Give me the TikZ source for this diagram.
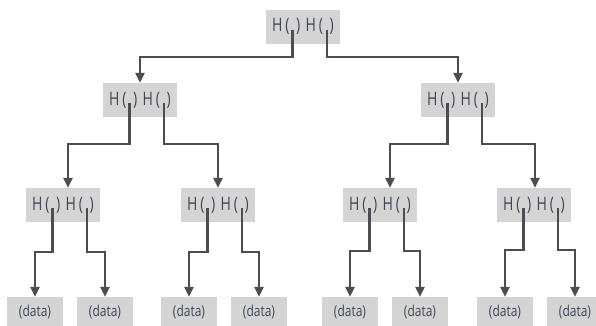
\documentclass[tikz,border=0pt]{standalone}
\usepackage{fontspec}
\setmainfont{Open Sans}
\usetikzlibrary{arrows.meta,calc}
\definecolor{boxgray}{HTML}{D4D4D4}
\definecolor{linec}{HTML}{4B4D52}
\definecolor{txt}{HTML}{3E4656}
\newcommand{\hpair}{\scalebox{0.76}[1]{H\hspace{3.6pt}(\hspace{8.8pt})\hspace{7.2pt}H\hspace{3.6pt}(\hspace{8.8pt})}}
\newcommand{\dtext}{\scalebox{0.8}[1]{(data)}}
\tikzset{
  hbox/.style={fill=boxgray, minimum width=74pt, minimum height=34pt, inner sep=0pt,
    text=txt, font=\fontsize{18.5}{18.5}\selectfont},
  dbox/.style={fill=boxgray, minimum width=56pt, minimum height=30pt, inner sep=0pt,
    text=txt, font=\fontsize{15}{15}\selectfont},
  link/.style={draw=linec, line width=2.6pt, -{Triangle[width=9pt,length=10pt]}},
}
\begin{document}
\begin{tikzpicture}[x=1pt,y=-1pt]
\clip (0,0) rectangle (596,325);
\fill[white] (0,0) rectangle (596,325);
% nodes
\node[hbox] (root) at (303,26.5) {\hpair};
\node[hbox] (l2l) at (140,100) {\hpair};
\node[hbox] (l2r) at (458,100) {\hpair};
\node[hbox] (ll) at (63,205) {\hpair};
\node[hbox] (lr) at (218,205) {\hpair};
\node[hbox] (rl) at (380,205) {\hpair};
\node[hbox] (rr) at (534,205) {\hpair};
\node[dbox] (d1) at (35,312) {\dtext};
\node[dbox] (d2) at (105,312) {\dtext};
\node[dbox] (d3) at (189,312) {\dtext};
\node[dbox] (d4) at (259,312) {\dtext};
\node[dbox] (d5) at (350,312) {\dtext};
\node[dbox] (d6) at (420,312) {\dtext};
\node[dbox] (d7) at (505,312) {\dtext};
\node[dbox] (d8) at (575,312) {\dtext};
% start points inside the parentheses
\foreach \n in {root,l2l,l2r,ll,lr,rl,rr}{
  \coordinate (\n-a) at ($(\n.center)+(-10.5,3)$);
  \coordinate (\n-b) at ($(\n.center)+(24,3)$);
}
% connectors
\draw[link] (root-a) -- (root-a |- 0,57) -| (l2l.north);
\draw[link] (root-b) -- (root-b |- 0,57) -| (l2r.north);
\draw[link] (l2l-a) -- (l2l-a |- 0,144) -| ($(ll.north)+(5,0)$);
\draw[link] (l2l-b) -- (l2l-b |- 0,144) -| (lr.north);
\draw[link] (l2r-a) -- (l2r-a |- 0,144) -| ($(rl.north)+(10,0)$);
\draw[link] (l2r-b) -- (l2r-b |- 0,144) -| ($(rr.north)+(1,0)$);
\draw[link] (ll-a) -- (ll-a |- 0,252) -| (d1.north);
\draw[link] (ll-b) -- (ll-b |- 0,252) -| (d2.north);
\draw[link] (lr-a) -- (lr-a |- 0,252) -| (d3.north);
\draw[link] (lr-b) -- (lr-b |- 0,252) -| (d4.north);
\draw[link] (rl-a) -- (rl-a |- 0,251) -| (d5.north);
\draw[link] (rl-b) -- (rl-b |- 0,251) -| (d6.north);
\draw[link] (rr-a) -- (rr-a |- 0,250) -| (d7.north);
\draw[link] (rr-b) -- (rr-b |- 0,250) -| (d8.north);
\end{tikzpicture}
\end{document}
